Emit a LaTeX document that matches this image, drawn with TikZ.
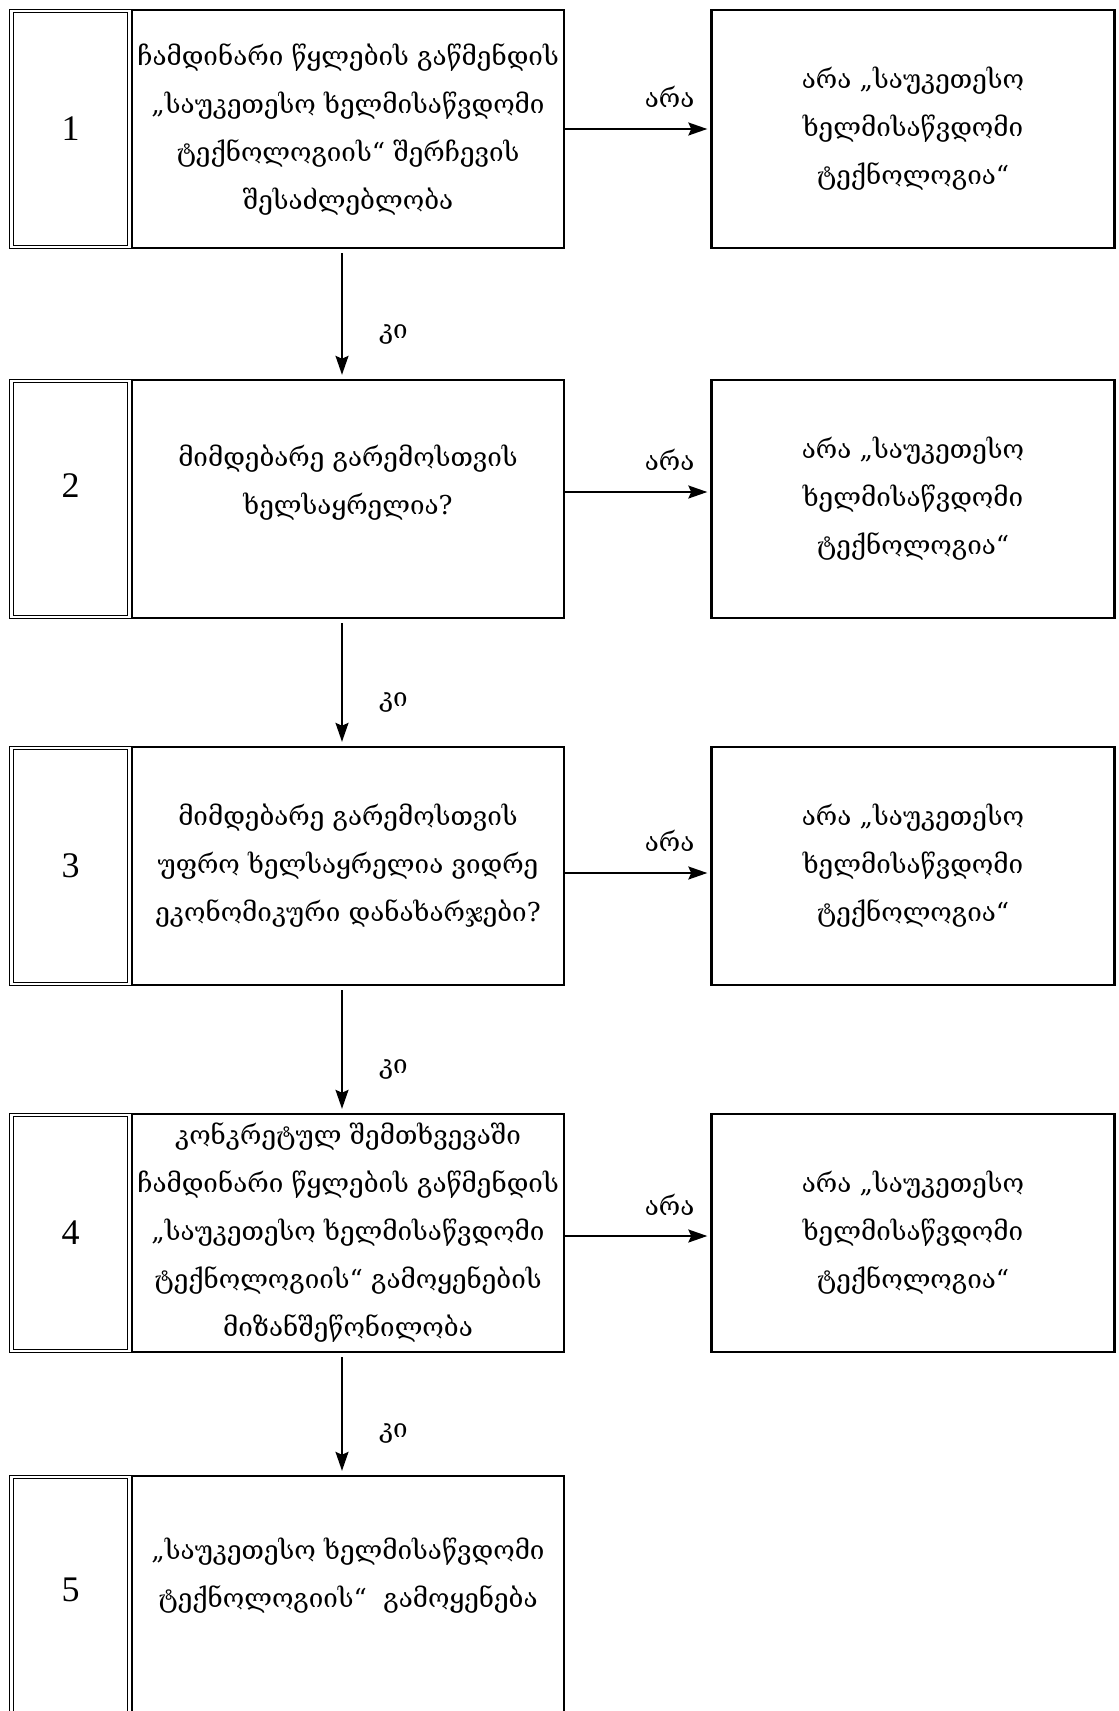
\documentclass[tikz,border=0pt]{standalone}
\usepackage{fontspec}
\newfontfamily\geo{DejaVu Serif}
\newfontfamily\numfont{Liberation Serif}
\usetikzlibrary{arrows.meta}
\begin{document}
\begin{tikzpicture}[x=1pt,y=-1pt,
  gtext/.style={font=\geo\fontsize{26}{48}\selectfont, align=center},
  mainbox/.style={draw, line width=2.4pt, rectangle, inner sep=0pt, minimum width=432pt, minimum height=238pt, gtext},
  rightbox/.style={draw, line width=2.4pt, rectangle, inner sep=0pt, minimum width=403pt, minimum height=238pt, gtext},
  numbox/.style={draw, double, line width=1.3pt, double distance=2.2pt, rectangle, inner sep=0pt, minimum width=118pt, minimum height=236pt, font=\numfont\fontsize{36}{36}\selectfont},
  arr/.style={line width=2pt, -{Stealth[length=19pt,width=13pt,inset=3pt]}},
  lbl/.style={font=\geo\fontsize{26}{26}\selectfont, inner sep=0pt}
]
\useasboundingbox (0,0) rectangle (1119,1711);
% row 1
\node[numbox] (n1) at (70.5,129) {1};
\node[mainbox] (m1) at (348,129) {ჩამდინარი წყლების გაწმენდის\\„საუკეთესო ხელმისაწვდომი\\ტექნოლოგიის“ შერჩევის\\შესაძლებლობა};
\node[rightbox] (r1) at (913,129) {არა „საუკეთესო\\ხელმისაწვდომი\\ტექნოლოგია“};
% row 2
\node[numbox] (n2) at (70.5,499) {};
\node[numbox, draw=none, double=none] (d2) at (70.5,486) {2};
\node[mainbox] (m2) at (348,499) {};
\node[gtext] (t2) at (348,483) {მიმდებარე გარემოსთვის\\ხელსაყრელია?};
\node[rightbox] (r2) at (913,499) {არა „საუკეთესო\\ხელმისაწვდომი\\ტექნოლოგია“};
% row 3
\node[numbox] (n3) at (70.5,866) {3};
\node[mainbox] (m3) at (348,866) {მიმდებარე გარემოსთვის\\უფრო ხელსაყრელია ვიდრე\\ეკონომიკური დანახარჯები?};
\node[rightbox] (r3) at (913,866) {არა „საუკეთესო\\ხელმისაწვდომი\\ტექნოლოგია“};
% row 4
\node[numbox] (n4) at (70.5,1233) {4};
\node[mainbox] (m4) at (348,1233) {კონკრეტულ შემთხვევაში\\ჩამდინარი წყლების გაწმენდის\\„საუკეთესო ხელმისაწვდომი\\ტექნოლოგიის“ გამოყენების\\მიზანშეწონილობა};
\node[rightbox] (r4) at (913,1233) {არა „საუკეთესო\\ხელმისაწვდომი\\ტექნოლოგია“};
% row 5
\node[numbox] (n5) at (70.5,1595) {};
\node[numbox, draw=none, double=none] (d5) at (70.5,1590) {5};
\node[mainbox] (m5) at (348,1595) {};
\node[gtext] (t5) at (348,1576) {„საუკეთესო ხელმისაწვდომი\\ტექნოლოგიის“~~გამოყენება};
% horizontal arrows
\draw[arr, shorten >=3pt] (m1.east) -- node[lbl, pos=0.72, above=20pt] (a1) {არა} (r1.west);
\draw[arr, shorten >=3pt] ([yshift=7pt]m2.east) -- node[lbl, pos=0.72, above=20pt] (a2) {არა} ([yshift=7pt]r2.west);
\draw[arr, shorten >=3pt] ([yshift=-7pt]m3.east) -- node[lbl, pos=0.72, above=20pt] (a3) {არა} ([yshift=-7pt]r3.west);
\draw[arr, shorten >=3pt] ([yshift=-3pt]m4.east) -- node[lbl, pos=0.72, above=20pt] (a4) {არა} ([yshift=-3pt]r4.west);
% vertical arrows
\foreach \a/\b/\k in {m1/m2/1, m2/m3/2, m3/m4/3, m4/m5/4}{
  \draw[arr, shorten <=4pt, shorten >=4pt] ([xshift=-6pt]\a.south) -- node[lbl, pos=0.66, right=36pt] (k\k) {კი} ([xshift=-6pt]\b.north);
}
\end{tikzpicture}
\end{document}
